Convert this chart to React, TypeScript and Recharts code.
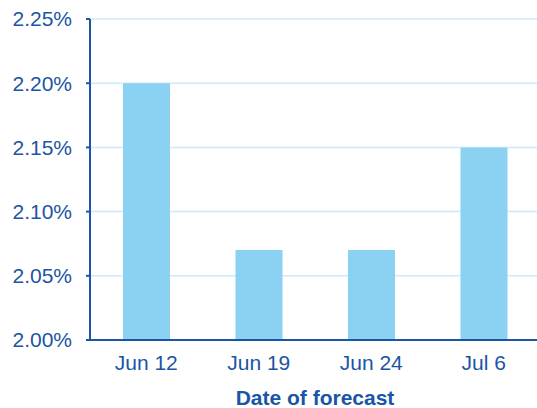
import { BarChart, Bar, XAxis, YAxis, CartesianGrid } from 'recharts';

const categories = ['Jun 12', 'Jun 19', 'Jun 24', 'Jul 6'];
const forecastValues = [2.2, 2.07, 2.07, 2.15];
const yTicks = [2.0, 2.05, 2.1, 2.15, 2.2, 2.25];

const data = categories.map((name, i) => ({ name, value: forecastValues[i] }));

const axisBlue = '#1b55a5';
const barBlue = '#8bd1f2';
const gridBlue = '#cdeaf8';

export default function App() {
    return (
        <div style={{ width: 540, height: 408, overflow: 'hidden', fontFamily: '"Liberation Sans", Arial, sans-serif' }}>
            <style>{'body{margin:0;overflow:hidden}'}</style>
            <BarChart
                width={540}
                height={408}
                data={data}
                margin={{ top: 19, right: 0, left: 8, bottom: 0 }}
                barSize={47}
            >
                <CartesianGrid vertical={false} stroke={gridBlue} strokeWidth={1.5} />
                <XAxis
                    dataKey="name"
                    stroke={axisBlue}
                    strokeWidth={2}
                    tickLine={false}
                    tickSize={0}
                    tickMargin={15}
                    height={68}
                    tick={{ fill: axisBlue, fontSize: 21 }}
                    label={{
                        value: 'Date of forecast',
                        position: 'insideBottom',
                        offset: 3,
                        fill: axisBlue,
                        fontSize: 21,
                        fontWeight: 'bold',
                    }}
                />
                <YAxis
                    domain={[2.0, 2.25]}
                    ticks={yTicks}
                    width={82}
                    stroke={axisBlue}
                    strokeWidth={2}
                    tickSize={4}
                    tickMargin={14}
                    tick={{ fill: axisBlue, fontSize: 21 }}
                    tickFormatter={(v: number) => v.toFixed(2) + '%'}
                />
                <Bar dataKey="value" fill={barBlue} isAnimationActive={false} />
            </BarChart>
        </div>
    );
}
